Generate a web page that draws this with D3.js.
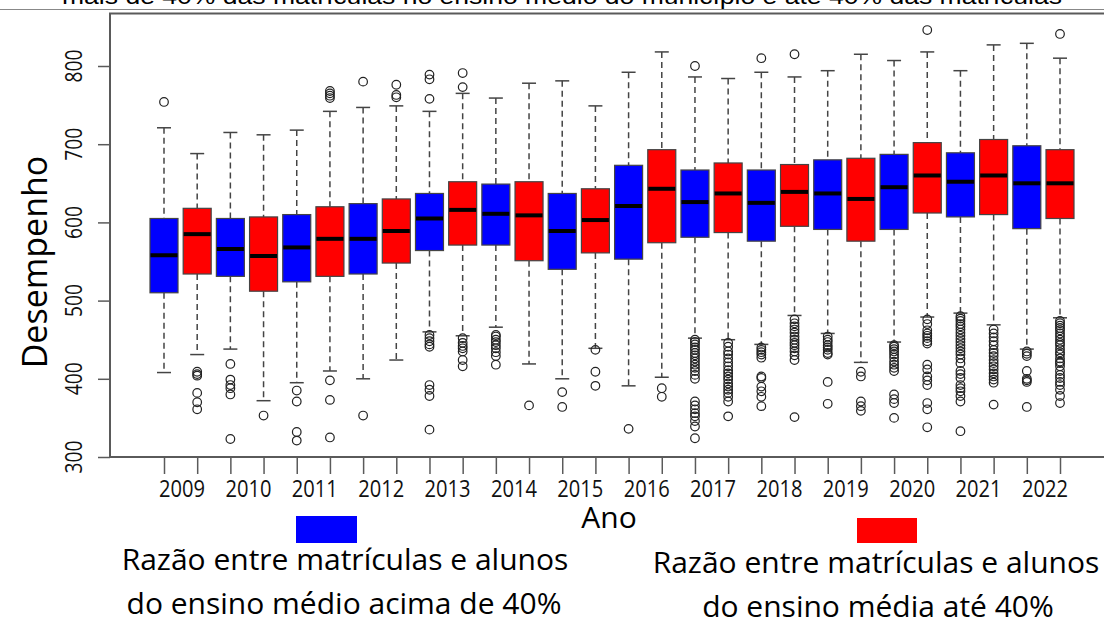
<!DOCTYPE html>
<html>
<head>
<meta charset="utf-8">
<script src="https://cdn.jsdelivr.net/npm/d3@7"></script>
<style>
  html, body { margin: 0; padding: 0; background: #fff; }
  svg { display: block; }
</style>
</head>
<body>
<script>
var width = 1104;
var height = 620;

// years (one blue + one red box per year)
var years = [2009, 2010, 2011, 2012, 2013, 2014, 2015, 2016, 2017, 2018, 2019, 2020, 2021, 2022];

// blue: razao acima de 40%
var blueLow  = [408, 438, 395, 400, 460, 466, 400, 391, 452, 444, 458, 447, 484, 438];
var blueQ1   = [510, 531, 524, 534, 564, 571, 540, 553, 581, 576, 591, 591, 607, 592];
var blueMed  = [558, 566, 568, 579, 605, 611, 589, 621, 626, 625, 637, 645, 652, 650];
var blueQ3   = [605, 605, 610, 624, 637, 649, 637, 673, 667, 667, 680, 687, 689, 698];
var blueHigh = [721, 715, 718, 747, 742, 759, 781, 792, 786, 792, 794, 807, 794, 829];
var blueOut = [
  [754],
  [419, 399, 392, 388, 380, 323],
  [385, 371, 332, 321],
  [780, 353],
  [789, 783, 758, 456, 452, 448, 444, 441, 392, 386, 378, 335],
  [456, 454, 450, 447, 443, 439, 434, 429, 418],
  [383, 364],
  [336],
  [800, 450, 447, 444, 440, 437, 433, 430, 426, 422, 418, 414, 410, 405, 400, 371, 366, 361, 356, 352, 346, 339, 324],
  [810, 440, 437, 434, 431, 427, 403, 401, 390, 384, 377, 365],
  [454, 450, 447, 443, 440, 437, 433, 431, 396, 368],
  [443, 441, 438, 435, 431, 427, 422, 418, 414, 410, 380, 374, 369, 350],
  [480, 477, 474, 470, 467, 463, 459, 455, 451, 447, 443, 439, 435, 431, 426, 420, 410, 406, 401, 392, 388, 384, 378, 371, 333],
  [435, 432, 429, 410, 400, 398, 396, 364]
];

// red: razao ate 40%
var redLow  = [431, 372, 410, 424, 455, 419, 439, 402, 450, 481, 421, 479, 469, 478];
var redQ1   = [534, 512, 531, 548, 571, 551, 561, 574, 587, 595, 576, 612, 610, 605];
var redMed  = [585, 557, 579, 589, 616, 609, 603, 643, 637, 639, 630, 660, 660, 650];
var redQ3   = [618, 607, 620, 630, 652, 652, 643, 693, 676, 674, 682, 702, 706, 693];
var redHigh = [688, 712, 742, 749, 765, 778, 749, 818, 784, 786, 815, 818, 827, 810];
var redOut = [
  [409, 406, 404, 382, 370, 361],
  [353],
  [768, 765, 762, 759, 398, 373, 325],
  [776, 763, 760],
  [791, 773, 452, 446, 442, 439, 435, 424, 416],
  [366],
  [437, 409, 391],
  [388, 377],
  [446, 441, 435, 431, 426, 421, 416, 411, 407, 403, 399, 394, 390, 386, 382, 377, 371, 352],
  [815, 476, 471, 467, 463, 459, 454, 450, 446, 443, 439, 435, 430, 424, 351],
  [409, 403, 371, 365, 359],
  [846, 476, 470, 462, 458, 455, 452, 448, 445, 418, 412, 403, 398, 392, 369, 361, 338],
  [463, 458, 453, 448, 443, 437, 433, 429, 424, 420, 416, 412, 407, 403, 399, 395, 367],
  [841, 474, 471, 468, 465, 462, 458, 454, 450, 446, 443, 438, 434, 431, 426, 422, 420, 416, 410, 405, 401, 396, 392, 386, 378, 369]
];

var blue = "#0000ff";
var red = "#ff0000";

var boxes = [];
years.forEach(function (yr, i) {
    boxes.push({pos: 2 * i + 1, fill: blue, lo: blueLow[i], q1: blueQ1[i], med: blueMed[i], q3: blueQ3[i], hi: blueHigh[i], out: blueOut[i]});
    boxes.push({pos: 2 * i + 2, fill: red, lo: redLow[i], q1: redQ1[i], med: redMed[i], q3: redQ3[i], hi: redHigh[i], out: redOut[i]});
});

var svg = d3.select("body").append("svg").attr("width", width).attr("height", height);

var x = d3.scaleLinear().domain([1, 28]).range([164, 1060]);
var y = d3.scaleLinear().domain([300, 800]).range([457, 66]);
var boxW = 28;
var capW = 14;

// title cut off at the top
svg.append("text")
    .attr("x", 562).attr("y", 4)
    .attr("text-anchor", "middle")
    .attr("textLength", 1000).attr("lengthAdjust", "spacingAndGlyphs")
    .style("font-family", "'Liberation Sans', Arial, sans-serif")
    .style("font-size", "22px")
    .text("mais de 40% das matrículas no ensino médio do município e até 40% das matrículas");

svg.append("line")
    .attr("x1", 0).attr("x2", width).attr("y1", 9.5).attr("y2", 9.5)
    .attr("stroke", "#888").attr("stroke-width", 1.2);

// plot frame (right side runs past the picture)
svg.append("rect")
    .attr("x", 110).attr("y", 13.5).attr("width", 1020).attr("height", 457 - 13.5)
    .attr("fill", "none").attr("stroke", "#5a5a5a").attr("stroke-width", 2);

// y axis
var yAxis = svg.append("g")
    .attr("transform", "translate(110,0)")
    .call(d3.axisLeft(y).tickValues([300, 400, 500, 600, 700, 800]).tickSize(12).tickFormat(""));
yAxis.select(".domain").remove();
yAxis.selectAll(".tick line").attr("stroke", "#5a5a5a").attr("stroke-width", 1.5);

svg.append("g").selectAll("text")
    .data([300, 400, 500, 600, 700, 800])
    .enter().append("text")
    .attr("transform", function (d) { return "translate(82," + y(d) + ") rotate(-90)"; })
    .attr("text-anchor", "middle")
    .attr("textLength", 33).attr("lengthAdjust", "spacingAndGlyphs")
    .style("font-family", "'Open Sans', sans-serif")
    .style("font-size", "23px")
    .attr("fill", "#111")
    .text(function (d) { return d; });

svg.append("text")
    .attr("transform", "translate(47,262) rotate(-90)")
    .attr("text-anchor", "middle")
    .style("font-family", "'Open Sans', sans-serif")
    .style("font-size", "34px")
    .text("Desempenho");

// x axis ticks
var xAxis = svg.append("g")
    .attr("transform", "translate(0,457)")
    .call(d3.axisBottom(x).tickValues(d3.range(1, 29)).tickSize(17).tickFormat(""));
xAxis.select(".domain").remove();
xAxis.selectAll(".tick line").attr("stroke", "#5a5a5a").attr("stroke-width", 1.5);

svg.append("g").selectAll("text")
    .data(years)
    .enter().append("text")
    .attr("x", function (d, i) { return (x(2 * i + 1) + x(2 * i + 2)) / 2 + 1.5; })
    .attr("y", 497)
    .attr("text-anchor", "middle")
    .attr("textLength", 46).attr("lengthAdjust", "spacingAndGlyphs")
    .style("font-family", "'Open Sans', sans-serif")
    .style("font-size", "24px")
    .attr("fill", "#111")
    .text(function (d) { return d; });

svg.append("text")
    .attr("x", 609).attr("y", 528)
    .attr("text-anchor", "middle")
    .style("font-family", "'Open Sans', sans-serif")
    .style("font-size", "30px")
    .text("Ano");

// boxes
var g = svg.append("g").selectAll("g")
    .data(boxes)
    .enter().append("g");

g.append("line")
    .attr("x1", function (d) { return x(d.pos); })
    .attr("x2", function (d) { return x(d.pos); })
    .attr("y1", function (d) { return y(d.hi); })
    .attr("y2", function (d) { return y(d.q3); })
    .attr("stroke", "#444").attr("stroke-width", 1.5).attr("stroke-dasharray", "6,4");

g.append("line")
    .attr("x1", function (d) { return x(d.pos); })
    .attr("x2", function (d) { return x(d.pos); })
    .attr("y1", function (d) { return y(d.q1); })
    .attr("y2", function (d) { return y(d.lo); })
    .attr("stroke", "#444").attr("stroke-width", 1.5).attr("stroke-dasharray", "6,4");

g.selectAll(".cap")
    .data(function (d) { return [{pos: d.pos, v: d.hi}, {pos: d.pos, v: d.lo}]; })
    .enter().append("line")
    .attr("class", "cap")
    .attr("x1", function (d) { return x(d.pos) - capW / 2; })
    .attr("x2", function (d) { return x(d.pos) + capW / 2; })
    .attr("y1", function (d) { return y(d.v); })
    .attr("y2", function (d) { return y(d.v); })
    .attr("stroke", "#444").attr("stroke-width", 1.5);

g.append("rect")
    .attr("x", function (d) { return x(d.pos) - boxW / 2; })
    .attr("y", function (d) { return y(d.q3); })
    .attr("width", boxW)
    .attr("height", function (d) { return y(d.q1) - y(d.q3); })
    .attr("fill", function (d) { return d.fill; })
    .attr("stroke", "#444").attr("stroke-width", 1.2);

g.append("line")
    .attr("x1", function (d) { return x(d.pos) - boxW / 2 + 0.5; })
    .attr("x2", function (d) { return x(d.pos) + boxW / 2 - 0.5; })
    .attr("y1", function (d) { return y(d.med); })
    .attr("y2", function (d) { return y(d.med); })
    .attr("stroke", "#000").attr("stroke-width", 4);

g.selectAll(".out")
    .data(function (d) { return d.out.map(function (v) { return {pos: d.pos, v: v}; }); })
    .enter().append("circle")
    .attr("class", "out")
    .attr("cx", function (d) { return x(d.pos); })
    .attr("cy", function (d) { return y(d.v); })
    .attr("r", 4.3)
    .attr("fill", "none")
    .attr("stroke", "#222").attr("stroke-width", 1.2);

// legend
svg.append("rect").attr("x", 296).attr("y", 516).attr("width", 61).attr("height", 27).attr("fill", blue);
svg.append("rect").attr("x", 857).attr("y", 518).attr("width", 60).attr("height", 25).attr("fill", red);

var legendText = [
    {x: 345, y: 570, t: "Razão entre matrículas e alunos"},
    {x: 344, y: 614, t: "do ensino médio acima de 40%"},
    {x: 876, y: 573, t: "Razão entre matrículas e alunos"},
    {x: 878, y: 617, t: "do ensino média até 40%"}
];
svg.append("g").selectAll("text")
    .data(legendText)
    .enter().append("text")
    .attr("x", function (d) { return d.x; })
    .attr("y", function (d) { return d.y; })
    .attr("text-anchor", "middle")
    .style("font-family", "'Open Sans', sans-serif")
    .style("font-size", "30px")
    .text(function (d) { return d.t; });
</script>
</body>
</html>
